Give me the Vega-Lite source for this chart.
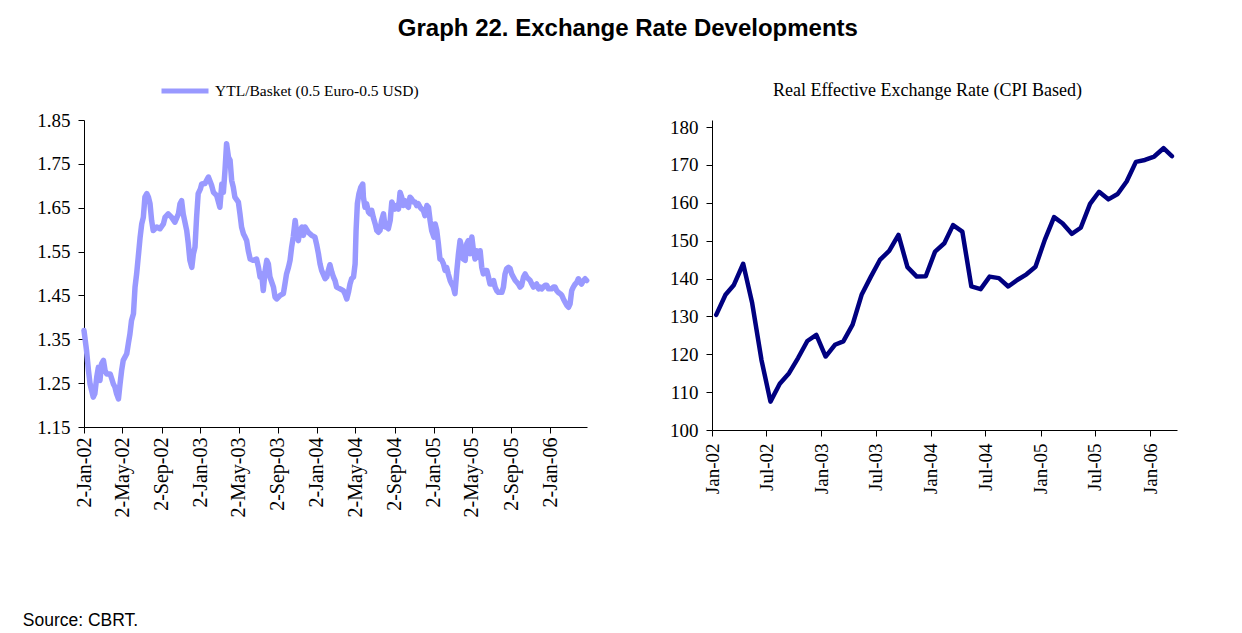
{
  "$schema": "https://vega.github.io/schema/vega-lite/v6.json",
  "background": "white",
  "padding": {"left": 22, "top": 17, "right": 5, "bottom": 5},
  "title": {"text": "Graph 22. Exchange Rate Developments", "font": "Liberation Sans", "fontSize": 24, "fontWeight": "bold", "color": "black", "anchor": "middle", "dx": 28, "offset": 24},
  "datasets": {
    "basket": [
      {"d":"2002-01-02","v":1.370},{"d":"2002-01-10","v":1.324},{"d":"2002-01-16","v":1.279},{"d":"2002-01-21","v":1.248},{"d":"2002-01-26","v":1.233},{"d":"2002-01-31","v":1.218},
      {"d":"2002-02-05","v":1.226},{"d":"2002-02-11","v":1.264},{"d":"2002-02-16","v":1.286},{"d":"2002-02-21","v":1.256},{"d":"2002-02-26","v":1.294},
      {"d":"2002-03-04","v":1.302},{"d":"2002-03-09","v":1.279},{"d":"2002-03-14","v":1.271},{"d":"2002-03-25","v":1.271},{"d":"2002-03-30","v":1.260},
      {"d":"2002-04-04","v":1.248},{"d":"2002-04-09","v":1.241},{"d":"2002-04-14","v":1.226},{"d":"2002-04-20","v":1.214},{"d":"2002-04-25","v":1.248},{"d":"2002-04-30","v":1.279},
      {"d":"2002-05-05","v":1.302},{"d":"2002-05-16","v":1.317},{"d":"2002-05-21","v":1.340},{"d":"2002-05-26","v":1.362},{"d":"2002-05-31","v":1.393},
      {"d":"2002-06-06","v":1.408},{"d":"2002-06-11","v":1.469},{"d":"2002-06-16","v":1.499},{"d":"2002-06-21","v":1.537},{"d":"2002-06-27","v":1.583},
      {"d":"2002-07-02","v":1.613},{"d":"2002-07-07","v":1.628},{"d":"2002-07-12","v":1.674},{"d":"2002-07-18","v":1.682},{"d":"2002-07-23","v":1.674},{"d":"2002-07-28","v":1.659},
      {"d":"2002-08-02","v":1.621},{"d":"2002-08-07","v":1.598},{"d":"2002-08-18","v":1.606},{"d":"2002-08-28","v":1.602},
      {"d":"2002-09-08","v":1.613},{"d":"2002-09-13","v":1.628},{"d":"2002-09-23","v":1.636},
      {"d":"2002-10-04","v":1.628},{"d":"2002-10-14","v":1.617},{"d":"2002-10-25","v":1.636},{"d":"2002-10-30","v":1.659},
      {"d":"2002-11-04","v":1.666},{"d":"2002-11-09","v":1.636},{"d":"2002-11-20","v":1.598},{"d":"2002-11-25","v":1.568},{"d":"2002-11-30","v":1.530},
      {"d":"2002-12-06","v":1.514},{"d":"2002-12-11","v":1.545},{"d":"2002-12-16","v":1.560},{"d":"2002-12-21","v":1.628},{"d":"2002-12-26","v":1.682},
      {"d":"2003-01-02","v":1.693},{"d":"2003-01-06","v":1.704},{"d":"2003-01-16","v":1.705},{"d":"2003-01-27","v":1.720},
      {"d":"2003-02-06","v":1.701},{"d":"2003-02-12","v":1.685},{"d":"2003-02-22","v":1.678},
      {"d":"2003-03-04","v":1.651},{"d":"2003-03-10","v":1.704},{"d":"2003-03-15","v":1.685},{"d":"2003-03-20","v":1.735},{"d":"2003-03-25","v":1.796},{"d":"2003-03-31","v":1.765},
      {"d":"2003-04-05","v":1.758},{"d":"2003-04-10","v":1.712},{"d":"2003-04-15","v":1.697},{"d":"2003-04-20","v":1.674},
      {"d":"2003-05-01","v":1.663},{"d":"2003-05-06","v":1.636},{"d":"2003-05-11","v":1.606},{"d":"2003-05-17","v":1.590},{"d":"2003-05-22","v":1.583},{"d":"2003-05-27","v":1.575},
      {"d":"2003-06-01","v":1.552},{"d":"2003-06-07","v":1.533},{"d":"2003-06-17","v":1.530},{"d":"2003-06-27","v":1.533},
      {"d":"2003-07-03","v":1.514},{"d":"2003-07-08","v":1.492},{"d":"2003-07-13","v":1.499},{"d":"2003-07-18","v":1.461},{"d":"2003-07-24","v":1.507},{"d":"2003-07-29","v":1.530},
      {"d":"2003-08-03","v":1.522},{"d":"2003-08-08","v":1.492},{"d":"2003-08-19","v":1.469},{"d":"2003-08-24","v":1.446},{"d":"2003-08-29","v":1.442},
      {"d":"2003-09-09","v":1.450},{"d":"2003-09-19","v":1.454},{"d":"2003-09-24","v":1.476},{"d":"2003-09-29","v":1.499},
      {"d":"2003-10-05","v":1.514},{"d":"2003-10-10","v":1.530},{"d":"2003-10-15","v":1.560},{"d":"2003-10-20","v":1.583},{"d":"2003-10-26","v":1.621},{"d":"2003-10-31","v":1.590},
      {"d":"2003-11-05","v":1.575},{"d":"2003-11-10","v":1.598},{"d":"2003-11-16","v":1.606},{"d":"2003-11-21","v":1.587},{"d":"2003-11-26","v":1.606},
      {"d":"2003-12-06","v":1.594},{"d":"2003-12-17","v":1.587},{"d":"2003-12-27","v":1.583},
      {"d":"2004-01-02","v":1.564},{"d":"2004-01-07","v":1.545},{"d":"2004-01-12","v":1.522},{"d":"2004-01-17","v":1.507},{"d":"2004-01-28","v":1.488},
      {"d":"2004-02-02","v":1.492},{"d":"2004-02-07","v":1.507},{"d":"2004-02-12","v":1.520},{"d":"2004-02-18","v":1.503},{"d":"2004-02-23","v":1.492},{"d":"2004-02-28","v":1.484},
      {"d":"2004-03-04","v":1.469},{"d":"2004-03-15","v":1.465},{"d":"2004-03-25","v":1.461},{"d":"2004-03-30","v":1.454},
      {"d":"2004-04-05","v":1.442},{"d":"2004-04-10","v":1.457},{"d":"2004-04-15","v":1.476},{"d":"2004-04-20","v":1.488},{"d":"2004-04-26","v":1.492},
      {"d":"2004-05-01","v":1.522},{"d":"2004-05-04","v":1.598},{"d":"2004-05-08","v":1.659},{"d":"2004-05-13","v":1.682},{"d":"2004-05-19","v":1.697},{"d":"2004-05-25","v":1.704},{"d":"2004-05-27","v":1.674},
      {"d":"2004-06-01","v":1.651},{"d":"2004-06-06","v":1.659},{"d":"2004-06-12","v":1.640},{"d":"2004-06-17","v":1.636},{"d":"2004-06-22","v":1.644},{"d":"2004-06-27","v":1.628},
      {"d":"2004-07-03","v":1.613},{"d":"2004-07-08","v":1.598},{"d":"2004-07-13","v":1.594},{"d":"2004-07-18","v":1.598},{"d":"2004-07-23","v":1.621},{"d":"2004-07-29","v":1.636},
      {"d":"2004-08-03","v":1.606},{"d":"2004-08-08","v":1.606},{"d":"2004-08-13","v":1.602},{"d":"2004-08-19","v":1.621},{"d":"2004-08-24","v":1.663},{"d":"2004-08-29","v":1.655},
      {"d":"2004-09-03","v":1.647},{"d":"2004-09-08","v":1.655},{"d":"2004-09-14","v":1.647},{"d":"2004-09-19","v":1.685},{"d":"2004-09-24","v":1.674},{"d":"2004-09-29","v":1.655},
      {"d":"2004-10-05","v":1.666},{"d":"2004-10-10","v":1.655},{"d":"2004-10-15","v":1.651},{"d":"2004-10-20","v":1.674},{"d":"2004-10-25","v":1.670},{"d":"2004-10-31","v":1.663},
      {"d":"2004-11-05","v":1.663},{"d":"2004-11-10","v":1.655},{"d":"2004-11-15","v":1.659},{"d":"2004-11-21","v":1.651},{"d":"2004-11-26","v":1.647},
      {"d":"2004-12-01","v":1.644},{"d":"2004-12-06","v":1.632},{"d":"2004-12-12","v":1.655},{"d":"2004-12-17","v":1.651},{"d":"2004-12-22","v":1.621},{"d":"2004-12-27","v":1.598},
      {"d":"2005-01-03","v":1.583},{"d":"2005-01-07","v":1.613},{"d":"2005-01-12","v":1.598},{"d":"2005-01-17","v":1.568},{"d":"2005-01-22","v":1.533},{"d":"2005-01-28","v":1.530},
      {"d":"2005-02-02","v":1.522},{"d":"2005-02-07","v":1.507},{"d":"2005-02-12","v":1.514},{"d":"2005-02-17","v":1.499},{"d":"2005-02-23","v":1.484},{"d":"2005-02-28","v":1.476},
      {"d":"2005-03-05","v":1.469},{"d":"2005-03-10","v":1.454},{"d":"2005-03-16","v":1.507},{"d":"2005-03-21","v":1.545},{"d":"2005-03-26","v":1.575},{"d":"2005-03-31","v":1.560},
      {"d":"2005-04-05","v":1.533},{"d":"2005-04-11","v":1.530},{"d":"2005-04-16","v":1.568},{"d":"2005-04-21","v":1.575},{"d":"2005-04-26","v":1.545},
      {"d":"2005-05-02","v":1.583},{"d":"2005-05-07","v":1.552},{"d":"2005-05-12","v":1.533},{"d":"2005-05-17","v":1.552},{"d":"2005-05-23","v":1.537},{"d":"2005-05-28","v":1.552},
      {"d":"2005-06-02","v":1.514},{"d":"2005-06-07","v":1.499},{"d":"2005-06-12","v":1.507},{"d":"2005-06-18","v":1.507},{"d":"2005-06-23","v":1.492},{"d":"2005-06-28","v":1.476},
      {"d":"2005-07-03","v":1.476},{"d":"2005-07-09","v":1.484},{"d":"2005-07-14","v":1.469},{"d":"2005-07-19","v":1.461},{"d":"2005-07-24","v":1.457},{"d":"2005-07-29","v":1.457},
      {"d":"2005-08-04","v":1.457},{"d":"2005-08-09","v":1.469},{"d":"2005-08-14","v":1.499},{"d":"2005-08-19","v":1.511},{"d":"2005-08-25","v":1.514},{"d":"2005-08-30","v":1.511},
      {"d":"2005-09-04","v":1.499},{"d":"2005-09-09","v":1.492},{"d":"2005-09-15","v":1.484},{"d":"2005-09-20","v":1.480},{"d":"2005-09-25","v":1.476},{"d":"2005-09-30","v":1.469},
      {"d":"2005-10-05","v":1.473},{"d":"2005-10-11","v":1.492},{"d":"2005-10-16","v":1.499},{"d":"2005-10-21","v":1.492},{"d":"2005-10-26","v":1.488},
      {"d":"2005-11-01","v":1.484},{"d":"2005-11-06","v":1.476},{"d":"2005-11-11","v":1.469},{"d":"2005-11-16","v":1.473},{"d":"2005-11-21","v":1.476},{"d":"2005-11-27","v":1.465},
      {"d":"2005-12-02","v":1.469},{"d":"2005-12-07","v":1.465},{"d":"2005-12-12","v":1.469},{"d":"2005-12-18","v":1.473},{"d":"2005-12-23","v":1.473},{"d":"2005-12-28","v":1.465},
      {"d":"2006-01-02","v":1.465},{"d":"2006-01-07","v":1.465},{"d":"2006-01-13","v":1.469},{"d":"2006-01-18","v":1.469},{"d":"2006-01-23","v":1.461},{"d":"2006-01-28","v":1.457},
      {"d":"2006-02-03","v":1.454},{"d":"2006-02-08","v":1.450},{"d":"2006-02-13","v":1.442},{"d":"2006-02-18","v":1.435},{"d":"2006-02-24","v":1.427},
      {"d":"2006-03-01","v":1.423},{"d":"2006-03-06","v":1.431},{"d":"2006-03-11","v":1.461},{"d":"2006-03-16","v":1.469},{"d":"2006-03-22","v":1.476},{"d":"2006-03-27","v":1.480},
      {"d":"2006-04-01","v":1.488},{"d":"2006-04-06","v":1.480},{"d":"2006-04-11","v":1.476},{"d":"2006-04-17","v":1.484},{"d":"2006-04-22","v":1.488},{"d":"2006-04-27","v":1.484}
    ],
    "reer": [
      {"m":"2002-01-15","v":130.4},{"m":"2002-02-15","v":135.7},{"m":"2002-03-15","v":138.3},{"m":"2002-04-15","v":143.9},{"m":"2002-05-15","v":133.5},{"m":"2002-06-15","v":118.5},
      {"m":"2002-07-15","v":107.5},{"m":"2002-08-15","v":112.2},{"m":"2002-09-15","v":115.0},{"m":"2002-10-15","v":119.0},{"m":"2002-11-15","v":123.5},{"m":"2002-12-15","v":125.1},
      {"m":"2003-01-15","v":119.4},{"m":"2003-02-15","v":122.5},{"m":"2003-03-15","v":123.4},{"m":"2003-04-15","v":127.8},{"m":"2003-05-15","v":135.7},{"m":"2003-06-15","v":140.5},
      {"m":"2003-07-15","v":144.9},{"m":"2003-08-15","v":147.3},{"m":"2003-09-15","v":151.5},{"m":"2003-10-15","v":143.0},{"m":"2003-11-15","v":140.5},{"m":"2003-12-15","v":140.6},
      {"m":"2004-01-15","v":147.1},{"m":"2004-02-15","v":149.3},{"m":"2004-03-15","v":154.1},{"m":"2004-04-15","v":152.4},{"m":"2004-05-15","v":137.9},{"m":"2004-06-15","v":137.2},
      {"m":"2004-07-15","v":140.5},{"m":"2004-08-15","v":140.1},{"m":"2004-09-15","v":137.9},{"m":"2004-10-15","v":139.6},{"m":"2004-11-15","v":141.1},{"m":"2004-12-15","v":143.1},
      {"m":"2005-01-15","v":150.2},{"m":"2005-02-15","v":156.2},{"m":"2005-03-15","v":154.6},{"m":"2005-04-15","v":151.8},{"m":"2005-05-15","v":153.4},{"m":"2005-06-15","v":159.7},
      {"m":"2005-07-15","v":162.9},{"m":"2005-08-15","v":160.9},{"m":"2005-09-15","v":162.3},{"m":"2005-10-15","v":165.6},{"m":"2005-11-15","v":170.8},{"m":"2005-12-15","v":171.3},
      {"m":"2006-01-15","v":172.2},{"m":"2006-02-15","v":174.4},{"m":"2006-03-15","v":172.3}
    ]
  },
  "vconcat": [
    {
      "title": {"text": "Source: CBRT.", "orient": "bottom", "anchor": "start", "font": "Liberation Sans", "fontSize": 17.5, "fontWeight": "normal", "color": "black", "offset": 95, "dx": -14},
      "spacing": 79,
      "hconcat": [
        {
          "width": 503,
          "height": 307,
          "data": {"name": "basket"},
          "mark": {"type": "line", "strokeWidth": 5.5, "strokeJoin": "round", "strokeCap": "round"},
          "encoding": {
            "x": {
              "field": "d", "type": "temporal",
              "scale": {"domain": [{"year": 2002, "month": 1, "date": 2}, {"year": 2006, "month": 4, "date": 28}], "nice": false},
              "axis": {
                "title": null, "format": "%-d-%b-%y", "labelAngle": -90, "labelFontSize": 20, "labelPadding": 4,
                "values": [
                  {"year": 2002, "month": 1, "date": 2}, {"year": 2002, "month": 5, "date": 2}, {"year": 2002, "month": 9, "date": 2},
                  {"year": 2003, "month": 1, "date": 2}, {"year": 2003, "month": 5, "date": 2}, {"year": 2003, "month": 9, "date": 2},
                  {"year": 2004, "month": 1, "date": 2}, {"year": 2004, "month": 5, "date": 2}, {"year": 2004, "month": 9, "date": 2},
                  {"year": 2005, "month": 1, "date": 2}, {"year": 2005, "month": 5, "date": 2}, {"year": 2005, "month": 9, "date": 2},
                  {"year": 2006, "month": 1, "date": 2}
                ]
              }
            },
            "y": {
              "field": "v", "type": "quantitative",
              "scale": {"domain": [1.15, 1.85], "nice": false, "zero": false},
              "axis": {"title": null, "values": [1.15, 1.25, 1.35, 1.45, 1.55, 1.65, 1.75, 1.85], "format": ".2f", "labelPadding": 8}
            },
            "color": {
              "datum": "YTL/Basket (0.5 Euro-0.5 USD)",
              "scale": {"range": ["#9999ff"]},
              "legend": {
                "orient": "none", "legendX": 75, "legendY": -55, "title": null, "symbolType": "stroke", "symbolSize": 2209, "symbolStrokeWidth": 5,
                "labelFont": "Liberation Serif", "labelFontSize": 15.5, "labelColor": "black", "labelOffset": 4, "labelLimit": 500, "padding": 0
              }
            }
          }
        },
        {
          "width": 465,
          "height": 310,
          "title": {"text": "Real Effective Exchange Rate (CPI Based)", "font": "Liberation Serif", "fontSize": 18, "fontWeight": "normal", "color": "black", "offset": 18, "dx": -17},
          "data": {"name": "reer"},
          "mark": {"type": "line", "strokeWidth": 4.5, "color": "#000080", "strokeJoin": "round", "strokeCap": "round"},
          "encoding": {
            "x": {
              "field": "m", "type": "temporal",
              "scale": {"domain": [{"year": 2002, "month": 1, "date": 1}, {"year": 2006, "month": 4, "date": 1}], "nice": false},
              "axis": {
                "title": null, "format": "%b-%y", "labelAngle": -90, "labelPadding": 7,
                "values": [
                  {"year": 2002, "month": 1, "date": 1}, {"year": 2002, "month": 7, "date": 1},
                  {"year": 2003, "month": 1, "date": 1}, {"year": 2003, "month": 7, "date": 1},
                  {"year": 2004, "month": 1, "date": 1}, {"year": 2004, "month": 7, "date": 1},
                  {"year": 2005, "month": 1, "date": 1}, {"year": 2005, "month": 7, "date": 1},
                  {"year": 2006, "month": 1, "date": 1}
                ]
              }
            },
            "y": {
              "field": "v", "type": "quantitative",
              "scale": {"domain": [100, 181.85], "nice": false, "zero": false},
              "axis": {"title": null, "values": [100, 110, 120, 130, 140, 150, 160, 170, 180], "labelPadding": 8}
            }
          }
        }
      ]
    }
  ],
  "config": {
    "view": {"stroke": null},
    "axis": {
      "grid": false, "domainColor": "black", "domainWidth": 1, "tickColor": "black", "tickWidth": 1, "tickSize": 6,
      "labelColor": "black", "labelFont": "Liberation Serif", "labelFontSize": 19, "labelOverlap": false, "labelFlush": false
    }
  }
}
